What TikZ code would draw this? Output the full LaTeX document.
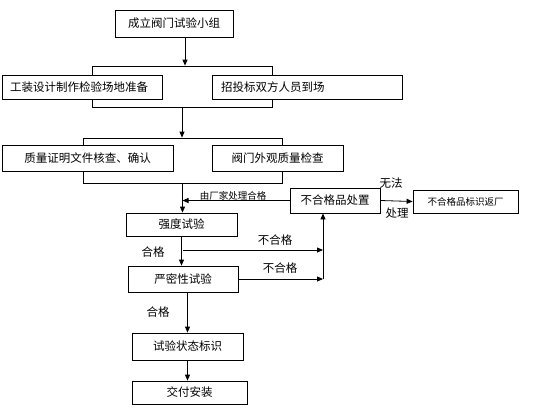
\documentclass[tikz,border=0pt]{standalone}
\usepackage{fontspec}
\setmainfont{Noto Sans CJK SC}
\usetikzlibrary{arrows.meta}
\begin{document}
\begin{tikzpicture}[x=1pt,y=-1pt,
  box/.style={draw,fill=white,line width=0.8pt,inner sep=0pt,font=\fontsize{11.5}{13}\selectfont},
  frame/.style={draw,line width=0.8pt,inner sep=0pt},
  lbl/.style={inner sep=0pt,font=\fontsize{11.5}{13}\selectfont},
  slbl/.style={inner sep=0pt,font=\fontsize{9.5}{11}\selectfont},
  arr/.style={line width=0.8pt,-{Triangle[length=6pt,width=5pt]}},
  ln/.style={line width=0.8pt}]
\useasboundingbox (0,0) rectangle (535,408);
% frames
\node[frame,minimum width=180pt,minimum height=41pt] (g1) at (182,86.5) {};
\node[frame,minimum width=199pt,minimum height=45pt] (g2) at (182.5,160.5) {};
% boxes
\node[box,minimum width=118pt,minimum height=27pt] (b1) at (174,23.5) {成立阀门试验小组};
\node[box,text width=144pt,inner xsep=8pt,minimum height=24pt,align=left] (b2) at (82,87) {工装设计制作检验场地准备};
\node[box,text width=172pt,inner xsep=9pt,minimum height=24pt,align=left] (b3) at (307,87) {招投标双方人员到场};
\node[box,minimum width=171pt,minimum height=26pt] (b4) at (87.5,158) {质量证明文件核查、确认};
\node[box,minimum width=131pt,minimum height=26pt] (b5) at (277.5,158) {阀门外观质量检查};
\node[box,minimum width=111pt,minimum height=23pt] (b6) at (181.5,224.5) {强度试验};
\node[box,minimum width=90pt,minimum height=25pt] (b7) at (335,200.5) {不合格品处置};
\node[box,minimum width=110pt,minimum height=26pt] (b8) at (183,279) {严密性试验};
\node[box,minimum width=111pt,minimum height=27pt] (b9) at (187.5,346.5) {试验状态标识};
\node[box,minimum width=115pt,minimum height=23pt] (b10) at (189.5,392.5) {交付安装};
\node[box,minimum width=105pt,minimum height=23pt,font=\fontsize{9.5}{11}\selectfont] (b11) at (465.5,201.5) {不合格品标识返厂};
% connectors
\draw[arr] ([xshift=11pt]b1.south) -- ([xshift=3pt]g1.north);
\draw[arr] (g1.south) -- (g1.south |- g2.north);
\draw[arr] (g2.south) -- (g2.south |- b6.north);
\draw[arr] (b7.west) -- (b7.west -| g2.south);
\draw[arr] (b7.east) -- (b11.west);
\draw[arr] (b6.south) -- (b6.south |- b8.north);
\coordinate (j) at (323,279);
\coordinate (s) at (183,250);
\draw[arr] (s) -- (s -| j);
\draw[arr] (b8.east) -- (j);
\draw[arr] (j) -- (j |- b7.south);
\draw[arr] (b9.north |- b8.south) -- (b9.north);
\draw[arr] (b9.south) -- (b9.south |- b10.north);
% labels
\node[slbl] (l1) at (233,196) {由厂家处理合格};
\node[lbl] (l2) at (391,183) {无法};
\node[lbl] (l3) at (397,213) {处理};
\node[lbl] (l4) at (275,240) {不合格};
\node[lbl] (l5) at (153,252) {合格};
\node[lbl] (l6) at (280,268) {不合格};
\node[lbl] (l7) at (158,312) {合格};
\end{tikzpicture}
\end{document}
